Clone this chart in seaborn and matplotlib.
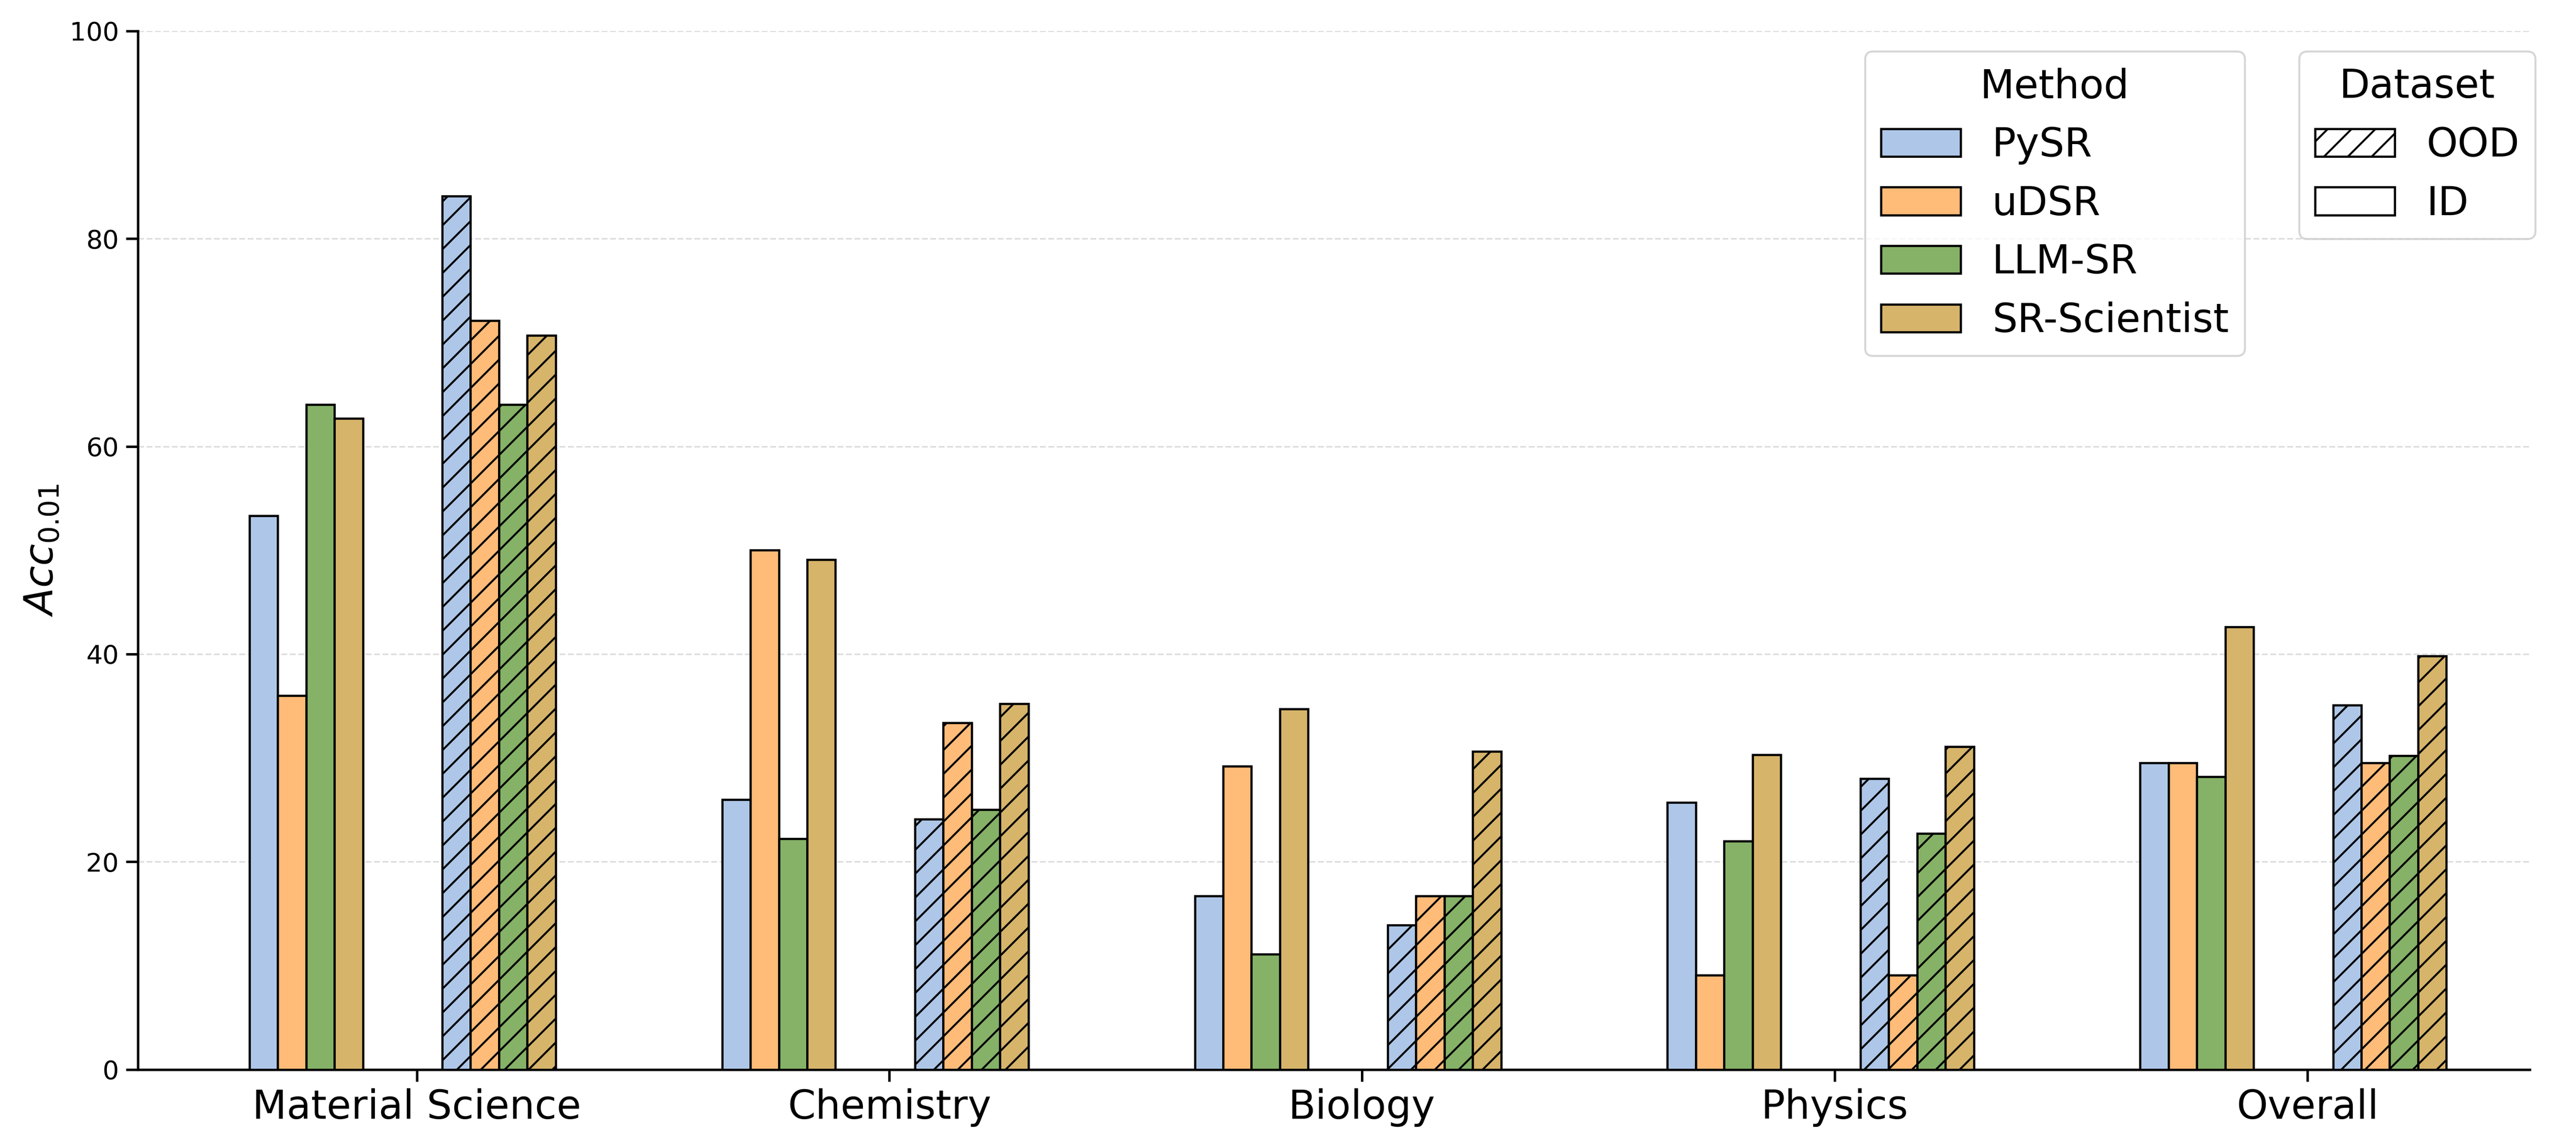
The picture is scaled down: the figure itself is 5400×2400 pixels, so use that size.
import numpy as np
import matplotlib
matplotlib.use("Agg")
import matplotlib.pyplot as plt
import seaborn as sns
from matplotlib.patches import Patch

# Data
domains = ["Material Science", "Chemistry", "Biology", "Physics", "Overall"]
methods = ["PySR", "uDSR", "LLM-SR", "SR-Scientist"]
colors = ["#aec7e8", "#ffbb78", "#85b267", "#d6b46a"]

id_pysr = [53.3, 26.0, 16.7, 25.7, 29.5]
id_udsr = [36.0, 50.0, 29.2, 9.1, 29.5]
id_llmsr = [64.0, 22.2, 11.1, 22.0, 28.2]
id_srsci = [62.7, 49.1, 34.7, 30.3, 42.6]

ood_pysr = [84.1, 24.1, 13.9, 28.0, 35.1]
ood_udsr = [72.1, 33.4, 16.7, 9.1, 29.5]
ood_llmsr = [64.0, 25.0, 16.7, 22.7, 30.2]
ood_srsci = [70.7, 35.2, 30.6, 31.1, 39.8]

id_vals = [id_pysr, id_udsr, id_llmsr, id_srsci]
ood_vals = [ood_pysr, ood_udsr, ood_llmsr, ood_srsci]

sns.set_theme(style="ticks")
plt.rcParams['font.family'] = ['DejaVu Sans']
plt.rcParams['hatch.linewidth'] = 1.0
plt.rcParams['text.color'] = 'black'
plt.rcParams['axes.labelcolor'] = 'black'
plt.rcParams['axes.edgecolor'] = 'black'
plt.rcParams['xtick.color'] = 'black'
plt.rcParams['ytick.color'] = 'black'

fig, ax = plt.subplots(figsize=(18, 8), dpi=300)
fig.subplots_adjust(left=0.0535, right=0.982, top=0.973, bottom=0.066)

x = np.arange(len(domains))
width = 0.06
id_start = -0.324
ood_start = 0.084

for i, m in enumerate(methods):
    ax.bar(x + id_start + i * width, id_vals[i], width=width, color=colors[i],
           edgecolor="black", linewidth=1.1, zorder=3)
    ax.bar(x + ood_start + i * width, ood_vals[i], width=width, color=colors[i],
           edgecolor="black", linewidth=1.1, hatch="//", zorder=3)

ax.set_xticks(x)
ax.set_xticklabels(domains, fontsize=20)
ax.set_xlim(-0.59, 4.47)
ax.set_ylim(0, 100)
ax.set_yticks([0, 20, 40, 60, 80, 100])
ax.tick_params(axis="y", labelsize=13)
ax.set_ylabel("$Acc_{0.01}$", fontsize=20)
ax.yaxis.grid(True, linestyle="--", color="#dddddd", linewidth=0.8)
ax.set_axisbelow(True)
sns.despine(ax=ax)

method_handles = [Patch(facecolor=c, edgecolor="black", linewidth=1.1, label=m)
                  for c, m in zip(colors, methods)]
leg1 = ax.legend(handles=method_handles, title="Method", fontsize=20, title_fontsize=20,
                 loc="upper left", bbox_to_anchor=(0.724, 0.955), bbox_transform=fig.transFigure,
                 borderaxespad=0)
ax.add_artist(leg1)

data_handles = [Patch(facecolor="white", edgecolor="black", linewidth=1.1, hatch="//", label="OOD"),
                Patch(facecolor="white", edgecolor="black", linewidth=1.1, label="ID")]
ax.legend(handles=data_handles, title="Dataset", fontsize=20, title_fontsize=20,
          loc="upper left", bbox_to_anchor=(0.8926, 0.955), bbox_transform=fig.transFigure,
          borderaxespad=0)

plt.savefig("out.png", dpi=300)
